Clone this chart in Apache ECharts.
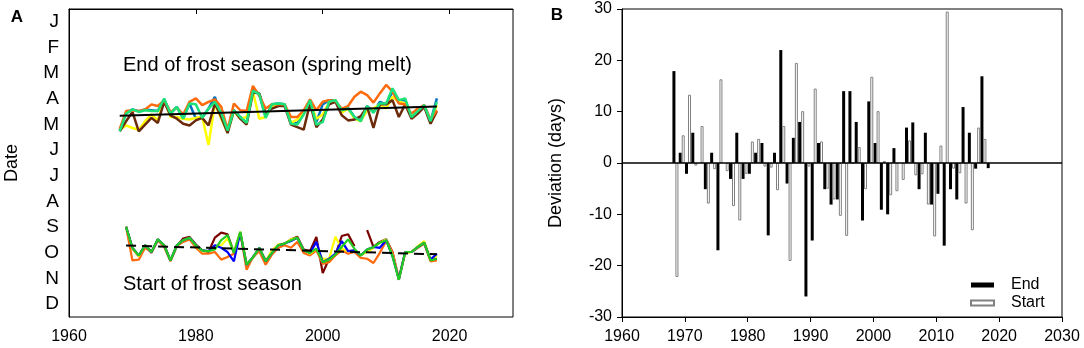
<!DOCTYPE html>
<html>
<head>
<meta charset="utf-8">
<title>Frost season</title>
<script src="https://cdn.jsdelivr.net/npm/echarts@6/dist/echarts.min.js"></script>
<style>
html, body { margin: 0; padding: 0; background: #fff; }
#main { width: 1084px; height: 348px; }
</style>
</head>
<body>
<div id="main"></div>
<script>
var FONT = 'Liberation Sans, Arial, sans-serif';

// month letters for panel A (top = January)
var months = ['J', 'F', 'M', 'A', 'M', 'J', 'J', 'A', 'S', 'O', 'N', 'D'];

// panel A, end of frost season (day of year), 1968-2018
var endYears = [1968,1969,1970,1971,1972,1973,1974,1975,1976,1977,
    1978,1979,1980,1981,1982,1983,1984,1985,1986,1987,
    1988,1989,1990,1991,1992,1993,1994,1995,1996,1997,
    1998,1999,2000,2001,2002,2003,2004,2005,2006,2007,
    2008,2009,2010,2011,2012,2013,2014,2015,2016,2017,2018];
var endOrange = [142,121,120,121,119,113,115,108,122,117,
    125,110,106,114,110,107,116,143,112,120,
    121,91,103,118,113,113,113,128,128,120,
    107,120,110,108,109,118,115,104,98,102,
    111,100,90,98,112,113,124,118,114,131,120];
var endYellow = [143,138,141,143,133,125,132,107,128,128,
    130,131,129,128,161,112,130,146,121,130,
    128,98,130,128,116,113,114,135,131,124,
    110,130,125,111,108,123,118,130,133,120,
    118,113,118,104,110,112,127,122,115,133,114];
var endBlue = [144,123,119,121,119,120,121,107,124,116,
    130,112,130,129,118,104,128,145,120,128,
    135,94,101,128,113,112,113,136,135,124,
    108,134,113,108,108,121,117,128,132,115,
    122,110,113,98,108,108,128,121,114,133,106];
var endGreen = [145,124,119,122,120,121,121,106,124,116,
    130,112,113,129,118,110,123,144,120,128,
    135,97,101,129,113,112,113,136,137,125,
    108,137,134,110,108,120,118,128,133,115,
    123,112,112,94,108,106,128,121,114,133,110];
var endBrown = [145,133,122,145,137,129,135,110,126,130,
    136,138,132,129,138,112,128,147,120,130,
    137,99,100,124,118,115,115,137,140,143,
    112,140,131,113,110,126,132,131,127,116,
    141,113,113,108,128,113,130,124,116,136,121];
var endTrendYears = [1968, 2018];
var endTrend = [126.5, 115.5];

// panel A, start of frost season (day of year), 1969-2018
var startYears = [1969,1970,1971,1972,1973,1974,1975,1976,1977,1978,
    1979,1980,1981,1982,1983,1984,1985,1986,1987,1988,
    1989,1990,1991,1992,1993,1994,1995,1996,1997,1998,
    1999,2000,2001,2002,2003,2004,2005,2006,2007,2008,
    2009,2010,2011,2012,2013,2014,2015,2016,2017,2018];
var startOrange = [258,298,297,283,288,274,282,299,281,276,
    273,283,290,290,288,297,294,290,265,309,
    294,287,303,291,283,280,283,276,289,292,
    286,302,300,292,286,290,288,295,296,301,
    289,275,288,319,289,288,283,278,299,298];
var startYellow = [258,284,293,280,288,273,280,298,280,274,
    271,281,287,287,282,280,272,288,264,302,
    295,283,299,286,279,278,273,271,286,290,
    284,296,296,270,284,287,286,292,288,283,
    277,273,292,320,289,288,281,275,296,293];
var startBlue = [258,283,292,280,288,273,280,298,280,274,
    271,280,286,287,280,283,288,299,265,303,
    294,283,299,289,280,278,275,271,286,289,
    276,300,296,290,275,287,286,292,285,282,
    283,274,293,320,288,288,282,277,297,290];
var startGreen = [258,283,292,280,288,273,280,298,280,274,
    271,280,286,287,285,274,268,289,264,303,
    294,283,299,289,280,278,274,271,286,289,
    284,300,297,291,282,273,284,292,285,282,
    277,274,293,321,288,288,282,277,298,296];
var startBrown = [258,284,293,280,289,274,280,298,281,272,
    270,279,286,288,271,265,267,289,265,303,
    295,284,298,290,280,278,273,270,285,287,
    270,313,296,292,269,267,281,null,262,282,
    276,273,288,321,288,288,282,277,297,296];
var startTrendYears = [1969, 2018];
var startTrend = [280.3, 290.7];

// panel B, deviation (days)
var devEndYears = endYears;
var devEnd = [17.9,2.0,-2.1,5.9,0,-5.1,2.0,-17.0,0,-3.1,
    5.9,-3.1,-2.1,2.0,3.9,-14.1,2.0,22.0,-4.0,4.9,
    8.0,-26.0,-15.1,3.9,-5.1,-8.1,-7.1,14.0,14.0,8.0,
    -11.2,12.0,3.9,-9.1,-10.0,2.9,0,6.9,7.9,-5.1,
    5.9,-8.1,-6.0,-16.1,-5.1,-7.1,10.9,5.9,-1.1,16.9,-1.0];
var devStartYears = [1968,1969,1970,1971,1972,1973,1974,1975,1976,1977,
    1978,1979,1980,1981,1982,1983,1984,1985,1986,1987,
    1988,1989,1990,1991,1992,1993,1994,1995,1996,1997,
    1998,1999,2000,2001,2002,2003,2004,2005,2006,2007,
    2008,2009,2010,2011,2012,2013,2014,2015,2016,2017];
var devStart = [-22.2,5.4,13.3,-0.5,7.2,-7.9,-1.2,16.3,-1.6,-8.4,
    -11.2,-2.1,4.2,4.7,-0.7,-0.9,-5.3,7.2,-19.1,19.5,
    10.1,-0.7,14.5,4.2,-5.0,-7.1,-10.3,-14.2,0,3.1,
    -5.1,16.8,10.1,0.4,-6.3,-5.5,-3.3,4.4,-2.4,-2.2,
    -8.1,-14.3,3.4,29.5,-1.1,-2.0,-7.9,-13.1,6.9,4.7];
// zero reference line across panel B
var zeroLineX = [1960, 2030];
var zeroLineY = [0, 0];

function pairs(xs, ys) {
    return xs.map(function (x, i) { return [x, ys[i]]; });
}

function dateLine(name, years, vals, color, w) {
    return {
        name: name, type: 'line', xAxisIndex: 0, yAxisIndex: 1,
        data: pairs(years, vals), symbol: 'none', connectNulls: false,
        lineStyle: { color: color, width: w }, itemStyle: { color: color },
        silent: true
    };
}

function plain(v) { return String(v); }

var axisBlack = { lineStyle: { color: '#000', width: 1 } };

var myChart = echarts.init(document.getElementById('main'));
var option = {
    animation: false,
    backgroundColor: '#fff',
    grid: [
        { left: 69, right: 571, top: 9, bottom: 31, show: true, borderColor: '#000', borderWidth: 1, outerBoundsMode: 'none' },
        { left: 622, right: 22, top: 9, bottom: 31, show: true, borderColor: '#000', borderWidth: 1, outerBoundsMode: 'none' }
    ],
    xAxis: [
        {
            gridIndex: 0, type: 'value', min: 1960, max: 2030, interval: 20,
            axisLine: axisBlack, axisTick: { length: 5, lineStyle: { color: '#000' } },
            axisLabel: { color: '#000', fontSize: 16, fontFamily: FONT, margin: 12, showMaxLabel: false, formatter: plain },
            splitLine: { show: false }
        },
        {
            gridIndex: 1, type: 'value', min: 1960, max: 2030, interval: 10,
            axisLine: { onZero: false, lineStyle: { color: '#000', width: 1 } },
            axisTick: { length: 5, lineStyle: { color: '#000' } },
            axisLabel: { color: '#000', fontSize: 16, fontFamily: FONT, margin: 12, formatter: plain },
            splitLine: { show: false }
        },
        // bars sit at mid-year
        { gridIndex: 1, type: 'value', min: 1959.5, max: 2029.5, show: false, splitLine: { show: false } }
    ],
    yAxis: [
        {
            gridIndex: 0, type: 'category', data: months, inverse: true, boundaryGap: true,
            axisLine: axisBlack,
            axisTick: { length: 5, interval: 0, lineStyle: { color: '#000' } },
            axisLabel: { color: '#000', fontSize: 19, fontFamily: FONT, margin: 10, interval: 0 },
            name: 'Date', nameLocation: 'middle', nameGap: 48,
            nameTextStyle: { color: '#000', fontSize: 18, fontFamily: FONT },
            splitLine: { show: false }
        },
        { gridIndex: 0, type: 'value', min: 0, max: 365, inverse: true, show: false, splitLine: { show: false } },
        {
            gridIndex: 1, type: 'value', min: -30, max: 30, interval: 10,
            axisLine: axisBlack, axisTick: { length: 5, lineStyle: { color: '#000' } },
            axisLabel: { color: '#000', fontSize: 16, fontFamily: FONT, margin: 10, formatter: plain },
            name: 'Deviation (days)', nameLocation: 'middle', nameGap: 57,
            nameTextStyle: { color: '#000', fontSize: 18, fontFamily: FONT },
            splitLine: { show: false }
        }
    ],
    legend: {
        data: ['End', 'Start'], orient: 'vertical', left: 965, top: 272,
        itemWidth: 23, itemHeight: 5, itemGap: 2, icon: 'rect',
        textStyle: { color: '#000', fontSize: 16, fontFamily: FONT, padding: [0, 0, 0, 12] }
    },
    graphic: [
        { type: 'text', x: 17, y: 17, style: { text: 'A', fontSize: 17, fontWeight: 'bold', fontFamily: FONT, fill: '#000', align: 'center', verticalAlign: 'middle' } },
        { type: 'text', x: 557, y: 15, style: { text: 'B', fontSize: 17, fontWeight: 'bold', fontFamily: FONT, fill: '#000', align: 'center', verticalAlign: 'middle' } },
        { type: 'text', x: 123, y: 65, style: { text: 'End of frost season (spring melt)', fontSize: 20, fontFamily: FONT, fill: '#000', align: 'left', verticalAlign: 'middle' } },
        { type: 'text', x: 123, y: 284, style: { text: 'Start of frost season', fontSize: 20, fontFamily: FONT, fill: '#000', align: 'left', verticalAlign: 'middle' } }
    ],
    series: [
        dateLine('end blue', endYears, endBlue, '#0070C0', 2.5),
        dateLine('end yellow', endYears, endYellow, '#FFFF00', 2.5),
        dateLine('end brown', endYears, endBrown, '#6B2A0A', 2.5),
        dateLine('end orange', endYears, endOrange, '#FF6A0D', 2.5),
        dateLine('end green', endYears, endGreen, '#1DE27A', 2.5),
        {
            name: 'end trend', type: 'line', xAxisIndex: 0, yAxisIndex: 1,
            data: pairs(endTrendYears, endTrend), symbol: 'none',
            lineStyle: { color: '#000', width: 2 }, silent: true
        },
        dateLine('start brown', startYears, startBrown, '#7A0000', 2.2),
        dateLine('start orange', startYears, startOrange, '#FF6A0D', 2.2),
        dateLine('start yellow', startYears, startYellow, '#FFFF00', 2.2),
        dateLine('start blue', startYears, startBlue, '#0000FF', 2.2),
        dateLine('start green', startYears, startGreen, '#22CC22', 2.2),
        {
            name: 'start trend', type: 'line', xAxisIndex: 0, yAxisIndex: 1,
            data: pairs(startTrendYears, startTrend), symbol: 'none',
            lineStyle: { color: '#000', width: 2, type: [10, 6] }, silent: true
        },
        {
            name: 'End', type: 'bar', xAxisIndex: 2, yAxisIndex: 2,
            data: pairs(devEndYears, devEnd), barWidth: 3, barGap: '0%',
            itemStyle: { color: '#000' }
        },
        {
            name: 'Start', type: 'bar', xAxisIndex: 2, yAxisIndex: 2,
            data: pairs(devStartYears, devStart), barWidth: 3, barGap: '0%',
            itemStyle: { color: '#fff', borderColor: '#808080', borderWidth: 1 }
        },
        {
            name: 'zero', type: 'line', xAxisIndex: 1, yAxisIndex: 2,
            data: pairs(zeroLineX, zeroLineY), symbol: 'none', silent: true,
            lineStyle: { color: '#000', width: 1.5 }, z: 3
        }
    ]
};
myChart.setOption(option);
</script>
</body>
</html>
